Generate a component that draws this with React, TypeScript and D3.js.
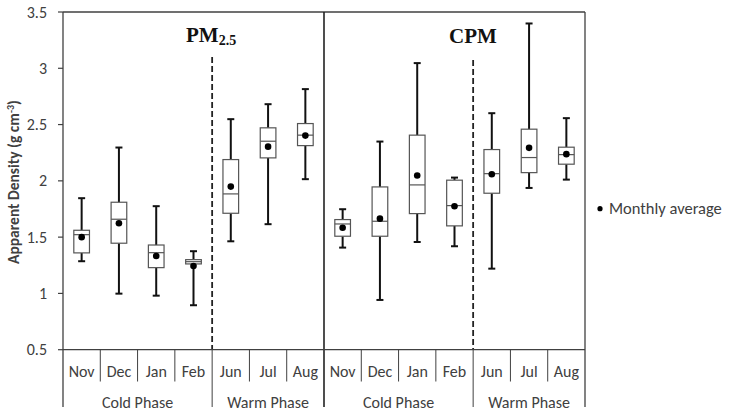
import React from "react";
import * as d3 from "d3";

const months = ["Nov", "Dec", "Jan", "Feb", "Jun", "Jul", "Aug", "Nov", "Dec", "Jan", "Feb", "Jun", "Jul", "Aug"];
const phases = ["Cold Phase", "Warm Phase", "Cold Phase", "Warm Phase"];
const phaseSizes = [4, 3, 4, 3];
const groupTitles = ["PM", "CPM"];

const whiskerLow = [1.286, 0.998, 0.98, 0.895, 1.463, 1.615, 2.015, 1.407, 0.942, 1.457, 1.419, 1.22, 1.937, 2.011];
const q1 = [1.36, 1.446, 1.229, 1.262, 1.712, 2.204, 2.313, 1.508, 1.508, 1.709, 1.6, 1.89, 2.073, 2.148];
const median = [1.522, 1.659, 1.362, 1.282, 1.884, 2.352, 2.406, 1.617, 1.641, 1.964, 1.78, 2.064, 2.207, 2.233];
const q3 = [1.561, 1.81, 1.43, 1.3, 2.189, 2.471, 2.509, 1.656, 1.946, 2.406, 2.006, 2.278, 2.459, 2.299];
const whiskerHigh = [1.846, 2.296, 1.775, 1.375, 2.548, 2.681, 2.815, 1.748, 2.349, 3.046, 2.029, 2.601, 3.398, 2.557];
const means = [1.5, 1.623, 1.333, 1.244, 1.949, 2.304, 2.402, 1.584, 1.664, 2.047, 1.775, 2.059, 2.293, 2.237];

const yTicks = [0.5, 1, 1.5, 2, 2.5, 3, 3.5];

export default function App() {
  const W = 729, H = 415;
  const left = 63, right = 585, top = 12, bottom = 349.7;
  const ids = months.map((_, i) => String(i));
  const x = d3.scaleBand<string>().domain(ids).range([left, right]).paddingInner(0).paddingOuter(0);
  const y = d3.scaleLinear().domain([0.5, 3.5]).range([bottom, top]);
  const bw = x.bandwidth();
  const boxW = bw * 0.42;
  const capW = 7;
  const font = "Carlito, Calibri, Lato, 'Open Sans', sans-serif";
  const axisColor = "#404040";

  const bounds: number[] = [0];
  phaseSizes.forEach((s) => bounds.push(bounds[bounds.length - 1] + s));
  const bx = (i: number) => (i >= months.length ? right : (x(String(i)) as number));

  return (
    <svg width={W} height={H} style={{ position: "absolute", left: 0, top: 0, background: "#fff" }}>
      <line x1={left} x2={right} y1={top} y2={top} stroke={axisColor} strokeWidth={1.3} />
      <line x1={left} x2={left} y1={top} y2={407} stroke={axisColor} strokeWidth={1.3} />
      <line x1={right} x2={right} y1={top} y2={407} stroke={axisColor} strokeWidth={1.3} />
      <line x1={bx(7)} x2={bx(7)} y1={top} y2={407} stroke="#222" strokeWidth={1.6} />
      {[4, 11].map((i) => (
        <g key={"d" + i}>
          <line x1={bx(i)} x2={bx(i)} y1={i === 4 ? 57 : 60} y2={bottom} stroke="#222" strokeWidth={1.8} strokeDasharray="6,3" />
          <line x1={bx(i)} x2={bx(i)} y1={bottom} y2={407} stroke={axisColor} strokeWidth={1} />
        </g>
      ))}
      {yTicks.map((t) => (
        <g key={"t" + t}>
          <line x1={left - 5} x2={left} y1={y(t)} y2={y(t)} stroke={axisColor} strokeWidth={1.2} />
          <text x={47} y={y(t)} dy="0.35em" textAnchor="end" fontFamily={font} fontSize={16} fill="#404040">
            {t}
          </text>
        </g>
      ))}
      <text
        transform={`translate(14,${182}) rotate(-90)`}
        textAnchor="middle"
        dy="0.35em"
        fontFamily={font}
        fontSize={15.5}
        fontWeight="bold"
        fill="#404040"
      >
        Apparent Density (g cm<tspan dy="-5" fontSize={10}>-3</tspan><tspan dy="5">)</tspan>
      </text>
      <line x1={left} x2={right} y1={bottom} y2={bottom} stroke={axisColor} strokeWidth={1.3} />
      {months.map((m, i) => (
        <g key={"m" + i}>
          {i > 0 && !bounds.includes(i) && (
            <line x1={bx(i)} x2={bx(i)} y1={bottom} y2={381.5} stroke={axisColor} strokeWidth={1} />
          )}
          <text x={bx(i) + bw / 2} y={371.5} dy="0.35em" textAnchor="middle" fontFamily={font} fontSize={16} fill="#404040">
            {m}
          </text>
        </g>
      ))}
      {phases.map((p, k) => (
        <text
          key={"p" + k}
          x={(bx(bounds[k]) + bx(bounds[k + 1])) / 2}
          y={402.5}
          dy="0.35em"
          textAnchor="middle"
          fontFamily={font}
          fontSize={16}
          fill="#404040"
        >
          {p}
        </text>
      ))}
      <text x={186} y={41.7} fontFamily="'Liberation Serif', 'Times New Roman', serif" fontWeight="bold" fontSize={21} fill="#111">
        {groupTitles[0]}
        <tspan fontSize={14} dy={3}>2.5</tspan>
      </text>
      <text x={449} y={43} fontFamily="'Liberation Serif', 'Times New Roman', serif" fontWeight="bold" fontSize={21} fill="#111">
        {groupTitles[1]}
      </text>
      {months.map((_, i) => {
        const cx = bx(i) + bw / 2;
        return (
          <g key={"b" + i}>
            <line x1={cx} x2={cx} y1={y(whiskerHigh[i])} y2={y(q3[i])} stroke="#111" strokeWidth={2} />
            <line x1={cx} x2={cx} y1={y(q1[i])} y2={y(whiskerLow[i])} stroke="#111" strokeWidth={2} />
            <line x1={cx - capW / 2} x2={cx + capW / 2} y1={y(whiskerHigh[i])} y2={y(whiskerHigh[i])} stroke="#111" strokeWidth={2} />
            <line x1={cx - capW / 2} x2={cx + capW / 2} y1={y(whiskerLow[i])} y2={y(whiskerLow[i])} stroke="#111" strokeWidth={2} />
            <rect x={cx - boxW / 2} y={y(q3[i])} width={boxW} height={y(q1[i]) - y(q3[i])} fill="#fff" stroke="#555" strokeWidth={1.2} />
            <line x1={cx - boxW / 2} x2={cx + boxW / 2} y1={y(median[i])} y2={y(median[i])} stroke="#555" strokeWidth={1.2} />
            <circle cx={cx} cy={y(means[i])} r={3.3} fill="#000" />
          </g>
        );
      })}
      <circle cx={600} cy={208.7} r={2.6} fill="#000" />
      <text x={609} y={208.7} dy="0.35em" fontFamily={font} fontSize={16.5} fill="#404040">
        Monthly average
      </text>
    </svg>
  );
}
